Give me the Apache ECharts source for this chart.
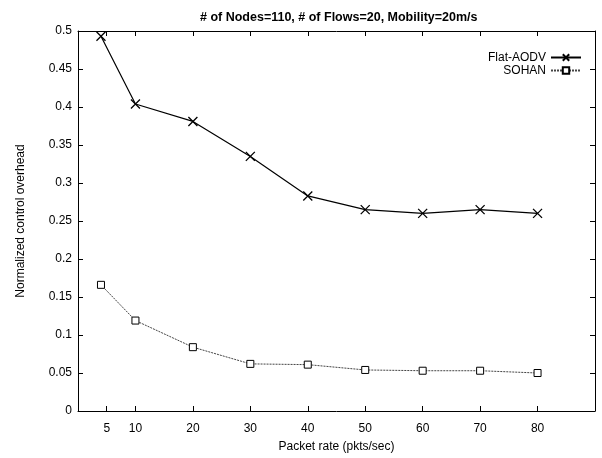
<!DOCTYPE html>
<html><head><meta charset="utf-8">
<script src="https://cdn.jsdelivr.net/npm/echarts@6/dist/echarts.min.js"></script>
<style>html,body{margin:0;padding:0;background:#fff}#c{width:602px;height:458px}</style>
</head><body><div id="c"></div>
<script>
const xValues = [4, 10, 20, 30, 40, 50, 60, 70, 80];
const flatAodv = [0.493, 0.404, 0.381, 0.335, 0.283, 0.265, 0.260, 0.265, 0.260];
const sohan = [0.166, 0.119, 0.084, 0.062, 0.061, 0.054, 0.053, 0.053, 0.050];
const xTicks = [5, 10, 20, 30, 40, 50, 60, 70, 80];
const titleText = '# of Nodes=110, # of Flows=20, Mobility=20m/s';
const F = '"Liberation Sans", Arial, sans-serif';

const chart = echarts.init(document.getElementById('c'));
const cross = 'path://M0,0L10,10M10,0L0,10';
const axisCommon = {
  axisLine: {show: true, onZero: false, lineStyle: {color: '#000', width: 1}},
  splitLine: {show: false}
};
chart.setOption({
  animation: false,
  backgroundColor: '#fff',
  textStyle: {fontFamily: F},
  title: {text: titleText, left: 195, top: 6,
    textStyle: {fontFamily: F, fontSize: 12.5, fontWeight: 'bold', color: '#000'}},
  legend: {orient: 'vertical', right: 15, top: 46, align: 'right', itemGap: 0,
    itemWidth: 30, itemHeight: 8,
    textStyle: {fontFamily: F, fontSize: 12, color: '#000', lineHeight: 13},
    data: ['Flat-AODV', 'SOHAN']},
  grid: {left: 78, right: 7, top: 31, bottom: 46},
  xAxis: [{
    type: 'value', min: 0, max: 90,
    name: 'Packet rate (pkts/sec)', nameLocation: 'middle', nameGap: 30,
    nameTextStyle: {fontFamily: F, fontSize: 12, color: '#000'},
    ...axisCommon,
    axisTick: {show: true, inside: true, length: 5, customValues: xTicks, lineStyle: {color: '#000'}},
    axisLabel: {customValues: xTicks, margin: 12, fontFamily: F, fontSize: 12, color: '#000'}
  }, {
    type: 'value', min: 0, max: 90, position: 'top',
    ...axisCommon,
    axisTick: {show: true, inside: true, length: 5, customValues: xTicks, lineStyle: {color: '#000'}},
    axisLabel: {show: false}
  }],
  yAxis: [{
    type: 'value', min: 0, max: 0.5, interval: 0.05,
    name: 'Normalized control overhead', nameLocation: 'middle', nameGap: 51,
    nameTextStyle: {fontFamily: F, fontSize: 12, color: '#000'},
    ...axisCommon,
    axisTick: {show: true, inside: true, length: 5, lineStyle: {color: '#000'}},
    axisLabel: {margin: 6, fontFamily: F, fontSize: 12, color: '#000',
      formatter: v => String(+v.toFixed(2))}
  }, {
    type: 'value', min: 0, max: 0.5, interval: 0.05, position: 'right',
    ...axisCommon,
    axisTick: {show: true, inside: true, length: 5, lineStyle: {color: '#000'}},
    axisLabel: {show: false}
  }],
  series: [{
    name: 'Flat-AODV', type: 'line',
    data: xValues.map((x, i) => [x, flatAodv[i]]),
    symbol: cross, symbolSize: 9,
    lineStyle: {color: '#000', width: 1.2},
    itemStyle: {color: '#000', borderColor: '#000', borderWidth: 1.3}
  }, {
    name: 'SOHAN', type: 'line',
    data: xValues.map((x, i) => [x, sohan[i]]),
    symbol: 'rect', symbolSize: 7,
    lineStyle: {color: '#444', width: 1, type: [2, 1]},
    itemStyle: {color: '#fff', borderColor: '#000', borderWidth: 1}
  }]
});
</script></body></html>
